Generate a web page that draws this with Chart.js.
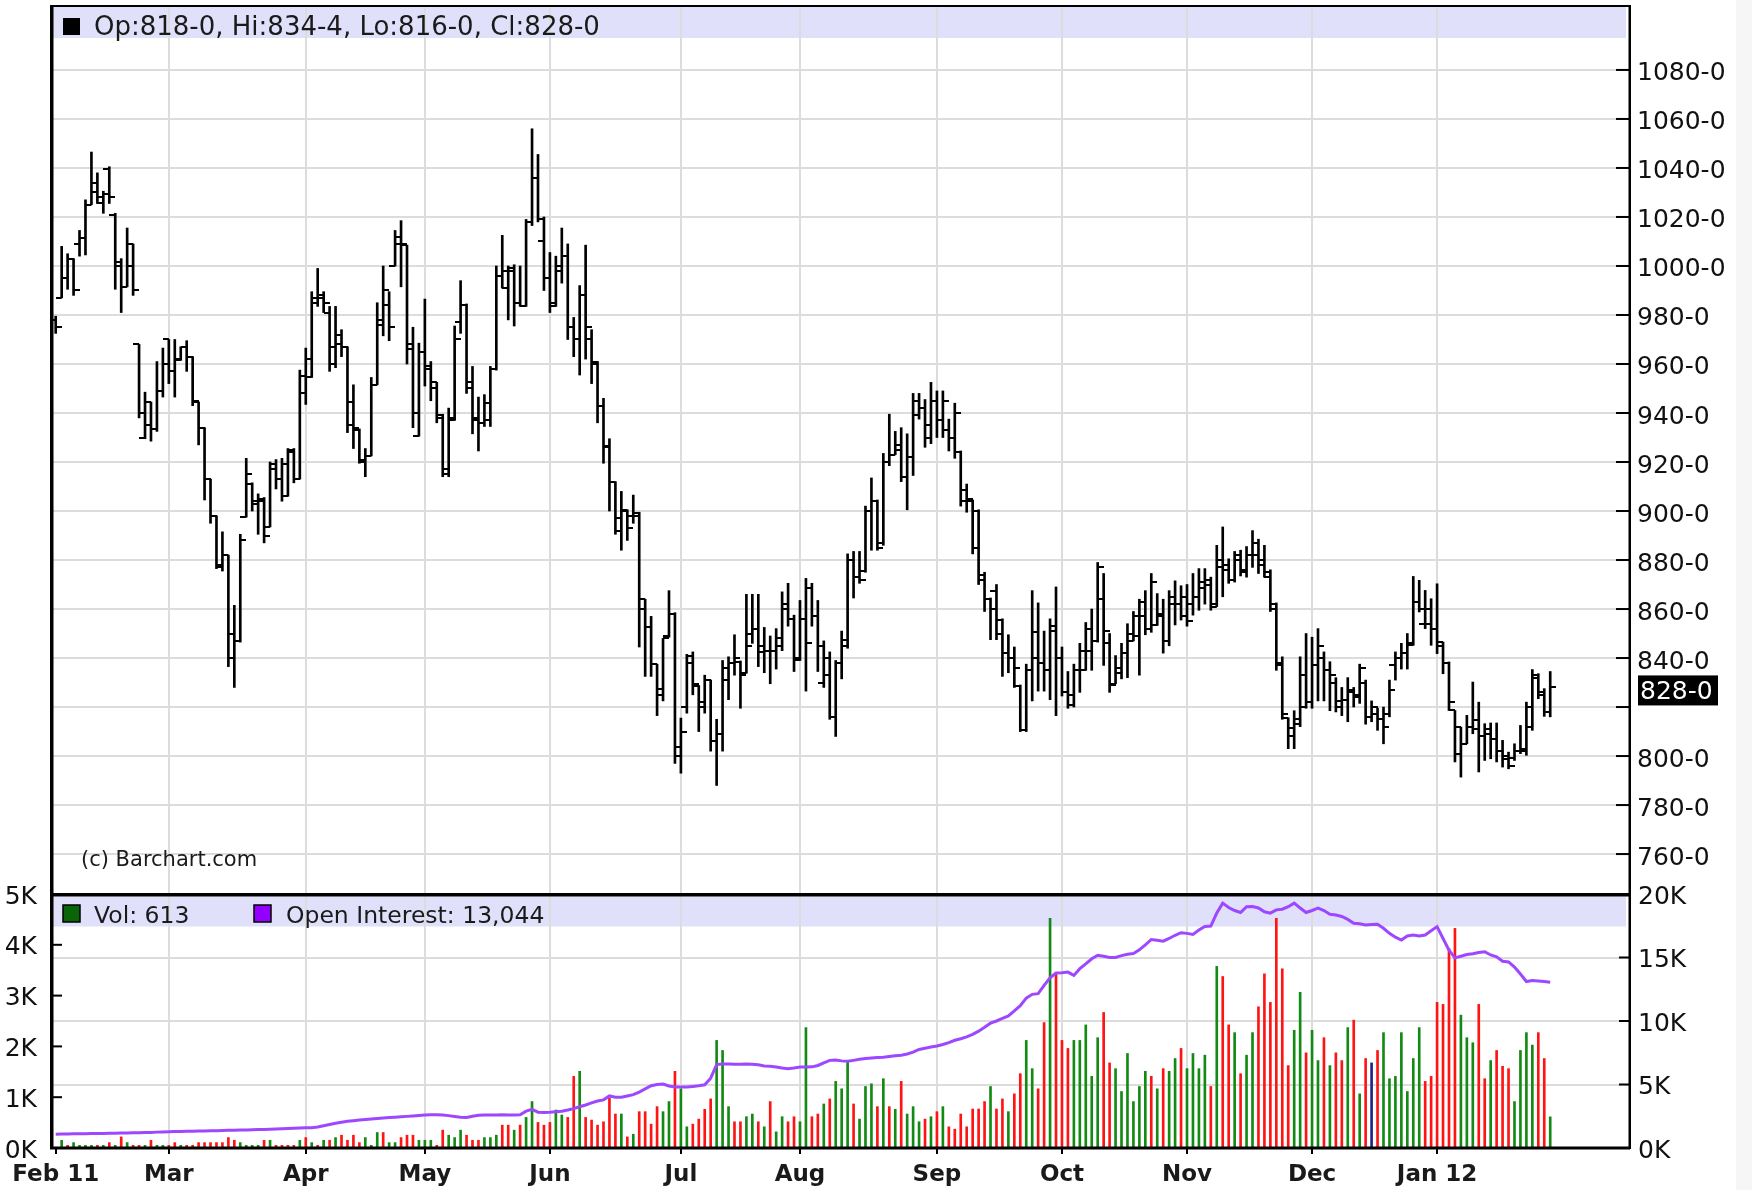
<!DOCTYPE html>
<html><head><meta charset="utf-8">
<script src="https://cdn.jsdelivr.net/npm/chart.js"></script>
<style>
html,body{margin:0;padding:0;background:#fff;width:1752px;height:1190px;overflow:hidden;}
#wrap{position:relative;width:1752px;height:1190px;}
#price{position:absolute;left:0;top:0;}
#vol{position:absolute;left:0;top:880px;}
#edge{position:absolute;left:1736px;top:0;width:16px;height:1190px;background:#f6f6f6;}
</style></head><body>
<div id="wrap"><canvas id="price" width="1752" height="900"></canvas><canvas id="vol" width="1752" height="310"></canvas><div id="edge"></div></div>
<script>
// ---------------- data (one entry per trading day, Feb 1 2011 .. Jan 31 2012) ----------------
const monthLabels = ['Feb 11','Mar','Apr','May','Jun','Jul','Aug','Sep','Oct','Nov','Dec','Jan 12'];
const monthStart  = [0,19,42,62,83,105,125,148,169,190,211,232];
const priceTicks  = [760,780,800,820,840,860,880,900,920,940,960,980,1000,1020,1040,1060,1080];
const volTicks    = [0,1000,2000,3000,4000,5000];
const oiTicks     = [0,5000,10000,15000,20000];

const open = [
978,987,995,1003,1009,1011.5,1025,1034,1025.5,1039.5,
1021,1001.5,991.5,1009,968,930,944.5,933.5,949,970,
957,961.5,967,963,944.5,934,913,898,878,882,
850,847,897.5,911,903,905,893.5,919,913,906,
925,913,948,954.5,987,988,981,967,968,967,
944.5,933,920,922.5,951.5,978,984,1000,1009,1008.5,
968,930.5,965,959,952.5,939,915,937,977,984,
952.5,937,936,937,958,996,991,999,985,983.5,
1018,1036,1010,995,985,998,1004,975,970,988,
970,961,943,926.5,912,892,900.5,898,899,864,
852.5,837.5,827.5,849,858,803.5,820,841,828.5,822,
831,806,809,831,838,838.5,833.8,850,852,842.5,
843,843,848,860,856,839,856,868.5,857,830,
840,816,838,847.5,880,873,875.5,900,904,887,
920,923,927,914,922,939,942,935,945,937,
933,930,924,908.5,904,900,872,864,867.5,855.5,
842,840,828.5,810.5,835,850.5,838,835,851,840,
826,824.8,835,835,843,847,864,846,829.5,834,
842,847,849,857,852,853.5,857,847,862,862,
865,862,865,868.5,870,861,877,876,872,880,
876,882,887,880,873,862,838,815.5,811.5,813,
833,822,837,840,835,830,822.5,823,826,824,
830,816,817,815,817,837,840,842,845.2,863,
854,854,852,846.5,838,818.6,801,805,812,814.6,
808,809,807,802,798.9,799,802,803,812,832,
826,818];

const high = [
979.5,1008,1005,1003,1014.5,1027,1046.5,1038,1030.5,1040.5,
1021.5,1003,1015.5,1009,968,948.5,944.5,961,966.5,970,
970,967,969.5,963,944.5,934,913,898,891.5,882,
861.5,890.5,921.5,911.5,907,905.5,920,921,921.5,925.5,
925.5,957.5,966.5,989.5,999,989.5,983.5,983.5,974,967,
951.5,933.5,925.5,954.5,985,1000,989.5,1014.5,1018.5,1008.5,
975,968.5,986.5,961,952.5,939.5,942,975.5,994,984.5,
959,946.5,947.5,959,1000,1012.5,1000,1000.5,1000,1019,
1056,1045.5,1020,1005.5,1004,1015.5,1009,979,992,1008.5,
974,961,946,929.5,912,908,900.5,906.5,899.5,864,
857,837.5,848,867.5,858.5,815.5,841.5,842.5,828.8,833,
831,815,839,840.5,849.5,838.8,866,866,866,852.5,
849,852,867,870.5,857.5,863.5,872.5,870.5,863.5,847,
842.5,839,851,882.5,883.5,883.5,902,913.5,904.5,923.5,
939.5,932.5,934,931.5,948,948,945.5,952.5,949,949,
937.5,944,924.5,911,904.5,900.5,875,864.5,870,856,
849.5,844.5,829,837.5,867.5,862.5,851,856,869,844.5,
834.5,837.5,846,854.5,860,879,874.5,850,841,846,
854,859,864,867.5,874.5,866.3,864,867.5,871.5,869.5,
870,874.5,876.5,876.5,873,886,893.5,880.5,883.5,884,
885.5,892,888.5,886,876,862.5,840.5,815.6,818.5,840.5,
850,848.5,852,842.5,838.5,832,828,832,828,837.5,
831,822.5,819.5,820,831,842.5,846,850,873.3,871.7,
867.6,864.2,870.3,846.5,838.4,818.6,811.8,816.6,830.2,822,
813.2,813.5,813.5,806.4,801.6,805,812.5,822,835.3,833.6,
827.5,834.5];

const low = [
972.5,987,990.5,988,1004,1004.5,1025,1025.5,1021.5,1025.5,
990.5,981,991.5,988,938,929.5,928.5,932.5,946.5,952,
946.5,961.5,957,943,927,904.5,895,876.5,875.5,836.5,
828,846.5,897.5,900,890.5,887,893.5,909,904,906,
911.5,913,943.5,954.5,983.5,981,957,958.5,963,932,
925.5,919.5,914,922.5,951.5,971.5,969.5,1000,991.5,960,
934,930.5,951,945,936,914,914,937,972.5,948,
931.5,924.5,934.5,934.5,957.5,991,978,975.5,983.5,983.5,
1016.5,1018,990,981,983.5,993,970,963,955.5,962,
952,936,919.5,900,890.5,884,888,895,844.5,832.5,
832.5,816.5,822.5,848.5,797,793,817.5,825,810,817.5,
802,788,802,823,833,819.5,833.8,846,836.5,834,
829.5,835.5,843,853,834.5,839,826.5,853,834.5,828,
815,808,831.5,844,864.5,870.5,875,884,884,886,
918.5,923,912,900.5,914.5,937.5,926,927.5,930,930,
924.5,921.5,902,899.5,882.5,870,859,847.5,847.5,832.5,
834,828,810,810,822.5,826.5,826.5,823,816.5,824.5,
819.5,820,826,835,835,846.5,837,826,829.5,831.5,
832,847,833,849.5,850.5,853.3,842,845,853.5,855.5,
853,857.5,859.5,862,859.5,861,865,870.5,871,873.5,
873,877,874.5,873,859,835,815,803,803,812,
819.5,819.5,822.5,822.5,818.5,818,816.5,814,820,821.5,
813,814,810.5,805,816,831,835.5,835.5,845.2,858.8,
852,845.2,841.8,833.6,818.6,797.6,791.4,805,809.1,793.5,
798.2,798.9,797.6,795.5,794.8,798.2,801,800.3,810.5,823.4,
816.2,816];

const close = [
975,995,1003,990,1011.5,1025,1030,1028,1029.5,1028,
1000,991.5,1000,990,940,935,933.5,949,960,957,
962,967,963,945,934,913,898,877,882,840,
847,888,915,904,904,890,917,913,919,924,
913,955,962,985,987,985,960,972,967,935,
934,921,922.5,951.5,976,990,975,1012,1009,966,
940,965,958,950,938,917,938,970,984,950,
938,936,944,958,996,998,998,985,983.5,1018,
1036,1019,995,983.5,1000,1004,975,970,988,975,
960,943,926,912,897,900,893,898,860,852.5,
837.5,825,848,858,800,810,838,829.5,820,831,
806,809,836,838,840,833,845,852,845,843,
843,845,862,856,840,856,846,857,845,833,
816,838,845,880,873,872,900,904,885,920,
923,925,914,922,945,942,930,945,937,945,
930,940,904,905,885,874,864,860,850,842,
840,836,810.5,835,840,838,835,853,840,826,
821,835,843,852,847,877,851,829,836,842,
850,857,863,852,871,858,847,865,862,857,
855,865,871,872,862,880,878,872,882,875,
882,882,878,875,860,837,817,808,815,820,
822,837,845,835,833,820,823,827,825,836,
816,820,815,812,827,840,842,846,863,860,
860,852,845,838,822,812,805,812,811,808,
811,807,802,800,796,802,802,820,833,825,
818,828];

const volume = [
0,152,53,106,53,53,53,53,53,106,
53,218,106,53,53,53,152,53,53,53,
106,53,53,53,106,106,106,106,106,205,
152,106,53,53,53,152,152,53,53,53,
53,152,205,106,53,152,152,205,252,152,
252,106,205,53,305,305,106,106,205,252,
252,152,152,152,53,351,252,205,351,252,
152,152,205,205,252,450,450,351,450,602,
914,503,450,503,748,649,602,1410,1510,602,
550,450,516,980,669,669,218,271,715,715,
470,814,715,914,1509,1165,417,470,569,761,
966,2118,1920,814,516,516,616,669,516,417,
914,318,616,516,616,516,2370,616,669,867,
966,1311,1165,1708,867,569,1211,1264,814,1364,
814,761,1311,669,814,516,569,616,715,814,
417,371,669,417,768,768,914,1211,768,966,
715,1066,1463,2118,1562,1165,2469,4521,3429,2118,
1960,2118,2118,2423,1410,2171,2668,1675,1562,1112,
1860,914,1211,1509,1410,1165,1562,1509,1761,1960,
1562,1860,1562,1827,1211,3575,3376,2423,2271,1463,
1827,2271,2780,3429,2866,4521,3528,1622,2317,3065,
1873,2317,1721,2171,1622,1873,1721,2370,2516,1066,
1761,1675,1920,2271,1364,1410,2271,1112,1761,2370,
1311,1410,2866,2827,3926,4323,2615,2171,2072,2827,
1364,1721,1920,1609,1562,914,1920,2271,2026,2271,
1761,613];

// u = up (green), d = down (red), n = unchanged (blue)
const volDir = ('uuduuuudud'+'ududduduud'+'dudddddddd'+'duuuududdd'+'dududududd'+
  'dduuuduudd'+'duuudduuud'+'dduuuddudu'+'uddduuddud'+'dddddududd'+
  'dduuduuddd'+'duuudduudu'+'duudduuddu'+'duuuduuudu'+'duduuududu'+
  'dddddddudd'+'udduuddudd'+'duuuuudduu'+'uuuududuud'+'uuuududdud'+
  'uudddddduu'+'duududdudu'+'dnduuuuuuu'+'dddddduuud'+'duddduuuud'+'du').split('');

const openInterest = [
1090,1100,1110,1120,1120,1130,1140,1150,1150,1160,1170,1180,1190,1200,1210,1220,1230,1250,1260,
1270,1290,1300,1310,1320,1330,1340,1350,1360,1380,1390,1400,1410,1420,1430,1450,1460,1470,1490,1510,1530,1550,1570,
1590,1600,1650,1750,1850,1950,2030,2100,2150,2200,2250,2290,2330,2370,2400,2430,2460,2490,2520,2560,
2600,2610,2620,2600,2550,2480,2420,2410,2500,2580,2600,2590,2600,2610,2600,2590,2610,2900,3040,2820,2800,
2810,2850,2900,2990,3100,3250,3390,3550,3700,3790,4100,4000,3990,4100,4200,4400,4650,4900,5000,5030,4880,4800,
4795,4800,4850,4900,4980,5500,6570,6620,6620,6600,6600,6620,6600,6550,6450,6440,6380,6300,6250,6300,
6384,6380,6390,6500,6700,6900,6920,6860,6830,6900,6980,7040,7080,7120,7150,7200,7260,7310,7400,7550,7760,7850,7950,
8030,8150,8300,8480,8600,8750,8950,9200,9500,9830,10000,10200,10400,10800,11200,11800,12100,12150,12800,13400,13780,
13800,13850,13590,14120,14500,14900,15180,15100,15000,15000,15150,15250,15310,15600,16000,16420,16350,16290,16500,16750,16950,
16900,16820,17160,17450,17480,18500,19280,18940,18700,18540,19000,19020,18900,18600,18490,18750,18800,19000,19280,18900,18540,
18700,18890,18700,18410,18350,18230,18000,17700,17650,17560,17600,17620,17300,16900,16600,16370,16700,16770,16700,16770,17100,
17430,16500,15580,14970,15100,15230,15300,15400,15450,15200,15050,14700,14650,14250,13700,13110,13190,13150,13110,13044];

// ---------------- helpers ----------------
Chart.defaults.font.family = "'DejaVu Sans', sans-serif";
const fmt = v => Math.floor(v) + '-' + Math.round((v - Math.floor(v)) * 8);
const X_MIN = -0.79, X_MAX = 264.4;
const GRID = '#dcdcdc';
const last = close.length - 1;
const idx = close.map((_, i) => i);

function tickImg(side) {
  const c = document.createElement('canvas');
  c.width = 12; c.height = 2;
  const g = c.getContext('2d');
  g.fillStyle = '#000';
  if (side === 'l') g.fillRect(0, 0, 6, 2); else g.fillRect(6, 0, 6, 2);
  return c;
}
function noPad(ax) { ax.paddingTop = 0; ax.paddingBottom = 0; ax.paddingLeft = 0; ax.paddingRight = 0; }

const xMonthScale = (extra) => Object.assign({
  type: 'linear', min: X_MIN, max: X_MAX, offset: false,
  afterBuildTicks: ax => { ax.ticks = monthStart.map(v => ({ value: v })); },
  border: { display: false }
}, extra);

// ---------------- price panel ----------------
const pricePanel = {
  id: 'pricePanel',
  beforeDraw(chart) {
    const { ctx, chartArea: a } = chart;
    ctx.save();
    ctx.fillStyle = 'rgb(224,224,250)';
    ctx.fillRect(a.left + 2, a.top + 1, a.right - a.left - 6, 31);
    ctx.restore();
  },
  afterDraw(chart) {
    const { ctx, chartArea: a } = chart;
    const ys = chart.scales.y;
    ctx.save();
    ctx.fillStyle = '#000';
    ctx.fillRect(a.left - 1, a.top - 1, a.right - a.left + 1, 2);
    ctx.fillRect(a.left - 1, a.top - 1, 3.5, a.bottom - a.top + 2);
    ctx.fillRect(a.right - 1.5, a.top - 1, 2.5, a.bottom - a.top + 2);
    priceTicks.forEach(v => { const y = ys.getPixelForValue(v); ctx.fillRect(a.right - 14, y - 1, 14, 2); });
    ctx.fillStyle = '#000';
    ctx.fillRect(63, 18, 17, 17);
    ctx.fillStyle = '#1a1a1a';
    ctx.font = "26px 'DejaVu Sans'";
    ctx.textBaseline = 'alphabetic';
    ctx.fillText(`Op:${fmt(open[last])}, Hi:${fmt(high[last])}, Lo:${fmt(low[last])}, Cl:${fmt(close[last])}`, 94, 35);
    ctx.font = "21px 'DejaVu Sans'";
    ctx.fillText('(c) Barchart.com', 81, 866);
    const yc = ys.getPixelForValue(close[last]);
    ctx.fillStyle = '#000';
    ctx.fillRect(1638, yc - 12, 80, 30);
    ctx.fillStyle = '#fff';
    ctx.font = "25px 'DejaVu Sans'";
    ctx.textBaseline = 'alphabetic';
    ctx.fillText(fmt(close[last]), 1640, yc + 12);
    ctx.restore();
  }
};

new Chart(document.getElementById('price'), {
  type: 'bar',
  data: {
    datasets: [
      { type: 'bar', data: idx.map(i => ({ x: i, y: [low[i], high[i]] })), backgroundColor: '#000',
        barThickness: 2, borderWidth: 0, yAxisID: 'y' },
      { type: 'scatter', data: idx.map(i => ({ x: i, y: open[i] })), pointStyle: tickImg('l'), pointRadius: 3, yAxisID: 'y' },
      { type: 'scatter', data: idx.map(i => ({ x: i, y: close[i] })), pointStyle: tickImg('r'), pointRadius: 3, yAxisID: 'y' }
    ]
  },
  options: {
    responsive: false, animation: false, events: [], devicePixelRatio: 1,
    layout: { padding: { left: 51, top: 6, right: 0, bottom: 6 } },
    plugins: { legend: { display: false }, tooltip: { enabled: false } },
    scales: {
      x: xMonthScale({
        afterFit: ax => { ax.height = 0; noPad(ax); },
        ticks: { display: false },
        grid: { offset: false, drawTicks: false, lineWidth: 2,
                color: c => (c.tick && c.tick.value === monthStart[0]) ? 'rgba(0,0,0,0)' : GRID }
      }),
      y: {
        position: 'right', min: 743.7, max: 1106.1,
        afterBuildTicks: ax => { ax.ticks = priceTicks.map(v => ({ value: v })); },
        afterFit: ax => { ax.width = 122; noPad(ax); },
        border: { display: false },
        grid: { drawTicks: false, lineWidth: 2, color: GRID },
        ticks: { padding: 7, labelOffset: 4, color: '#111', font: { size: 25, lineHeight: 1 },
                 callback: v => Math.abs(v - close[last]) < 10 ? '' : fmt(v) }
      }
    }
  },
  plugins: [pricePanel]
});

// ---------------- volume / open interest panel ----------------
const volPanel = {
  id: 'volPanel',
  beforeDraw(chart) {
    const { ctx, chartArea: a } = chart;
    ctx.save();
    ctx.fillStyle = 'rgb(224,224,250)';
    ctx.fillRect(a.left + 2, a.top + 2.5, a.right - a.left - 6, 30);
    ctx.restore();
  },
  afterDraw(chart) {
    const { ctx, chartArea: a } = chart;
    const yv = chart.scales.yv, yo = chart.scales.yo;
    ctx.save();
    ctx.fillStyle = '#000';
    ctx.fillRect(a.left - 1, a.top - 1, a.right - a.left + 1, 3.5);
    ctx.fillRect(a.left - 1, a.top - 1, 3.5, a.bottom - a.top + 2);
    ctx.fillRect(a.right - 1.5, a.top - 1, 2.5, a.bottom - a.top + 2);
    ctx.fillRect(a.left - 1, a.bottom - 1.5, a.right - a.left + 1, 3);
    volTicks.slice(1, -1).forEach(v => { const y = yv.getPixelForValue(v); ctx.fillRect(a.left, y - 1, 11, 2); });
    oiTicks.slice(1, -1).forEach(v => { const y = yo.getPixelForValue(v); ctx.fillRect(a.right - 11, y - 1, 11, 2); });
    // legend
    const sy = a.top + 11;
    ctx.fillStyle = '#0a640a'; ctx.fillRect(63, sy, 17, 17);
    ctx.strokeStyle = '#000'; ctx.lineWidth = 1.5; ctx.strokeRect(63, sy, 17, 17);
    ctx.fillStyle = '#9400ff'; ctx.fillRect(254, sy, 17, 17);
    ctx.strokeRect(254, sy, 17, 17);
    ctx.fillStyle = '#1a1a1a';
    ctx.font = "23.5px 'DejaVu Sans'";
    ctx.textBaseline = 'alphabetic';
    ctx.fillText('Vol: ' + volume[last], 94, a.top + 29);
    ctx.fillText('Open Interest: ' + openInterest[last].toLocaleString('en-US'), 286, a.top + 29);
    ctx.restore();
  }
};

const volColors = volDir.map(d => d === 'u' ? '#138a13' : d === 'd' ? '#ff1414' : '#222288');

new Chart(document.getElementById('vol'), {
  type: 'bar',
  data: {
    datasets: [
      { type: 'line', data: idx.map(i => ({ x: i, y: openInterest[i] })), yAxisID: 'yo',
        borderColor: '#9d48ff', borderWidth: 3, pointRadius: 0, tension: 0, fill: false },
      { type: 'bar', data: idx.map(i => ({ x: i, y: volume[i] })), yAxisID: 'yv',
        backgroundColor: volColors, barThickness: 2, borderWidth: 0 }
    ]
  },
  options: {
    responsive: false, animation: false, events: [], devicePixelRatio: 1,
    layout: { padding: { left: 0, top: 14, right: 0, bottom: 0 } },
    plugins: { legend: { display: false }, tooltip: { enabled: false } },
    scales: {
      x: xMonthScale({
        afterFit: ax => { ax.height = 42; noPad(ax); },
        grid: { offset: false, lineWidth: 2, drawTicks: true, tickLength: 6, tickWidth: 2, tickColor: '#000',
                color: c => (c.tick && c.tick.value === monthStart[0]) ? 'rgba(0,0,0,0)' : GRID },
        ticks: { autoSkip: false, maxRotation: 0, minRotation: 0, padding: 7, color: '#1a1a1a',
                 font: { size: 23, weight: 'bold', lineHeight: 1.2 },
                 callback: v => monthLabels[monthStart.indexOf(v)] }
      }),
      yv: {
        position: 'left', min: 0, max: 5000,
        afterBuildTicks: ax => { ax.ticks = volTicks.map(v => ({ value: v })); },
        afterFit: ax => { ax.width = 51; noPad(ax); },
        border: { display: false }, grid: { display: false },
        ticks: { padding: 6, labelOffset: 3, color: '#111', font: { size: 25, lineHeight: 1 }, callback: v => (v / 1000) + 'K' }
      },
      yo: {
        position: 'right', min: 0, max: 20000,
        afterBuildTicks: ax => { ax.ticks = oiTicks.map(v => ({ value: v })); },
        afterFit: ax => { ax.width = 122; noPad(ax); },
        border: { display: false },
        grid: { drawTicks: false, lineWidth: 2,
                color: c => (c.tick && c.tick.value > 0 && c.tick.value < 20000) ? GRID : 'rgba(0,0,0,0)' },
        ticks: { padding: 8, labelOffset: 3, color: '#111', font: { size: 25, lineHeight: 1 }, callback: v => (v / 1000) + 'K' }
      }
    }
  },
  plugins: [volPanel]
});
</script>
</body></html>
